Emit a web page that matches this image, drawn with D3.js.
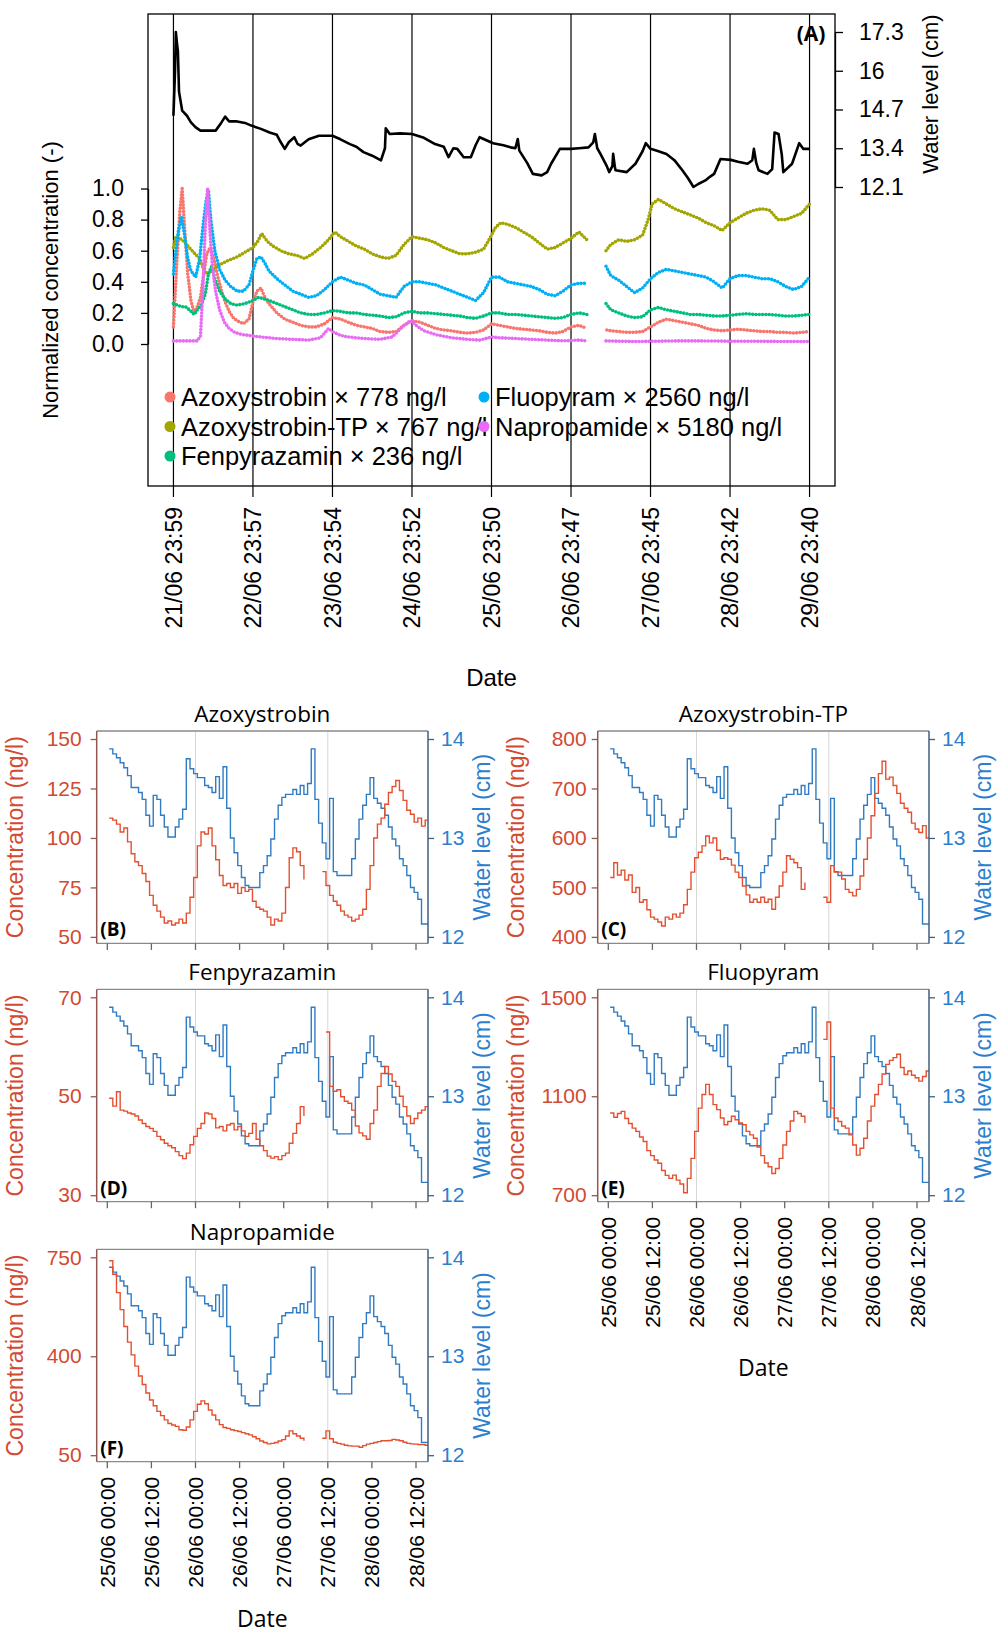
<!DOCTYPE html>
<html>
<head>
<meta charset="utf-8">
<script src="https://cdn.jsdelivr.net/npm/d3@7"></script>
<style>
  body { margin: 0; background: #fff; }
</style>
</head>
<body>
<script>
// ---- panel A: normalized concentrations, [day since 21/06 23:59, value] ----
const azoxyNorm = [[0,0.11],[0.04,0.5],[0.08,0.85],[0.11,1.0],[0.14,0.75],[0.18,0.45],[0.22,0.28],[0.26,0.2],[0.3,0.24],[0.34,0.3],[0.38,0.45],[0.42,0.58],[0.46,0.62],[0.5,0.57],[0.55,0.45],[0.6,0.35],[0.65,0.27],[0.7,0.21],[0.75,0.17],[0.8,0.15],[0.88,0.13],[0.95,0.16],[1.0,0.27],[1.05,0.34],[1.1,0.36],[1.15,0.3],[1.2,0.26],[1.3,0.2],[1.4,0.16],[1.5,0.14],[1.6,0.12],[1.7,0.11],[1.8,0.11],[1.9,0.13],[2.0,0.17],[2.1,0.16],[2.2,0.14],[2.3,0.12],[2.4,0.11],[2.5,0.1],[2.6,0.08],[2.7,0.075],[2.8,0.08],[2.9,0.12],[3.0,0.15],[3.1,0.14],[3.2,0.12],[3.3,0.1],[3.4,0.09],[3.5,0.085],[3.6,0.075],[3.7,0.07],[3.8,0.075],[3.9,0.09],[4.0,0.13],[4.1,0.12],[4.2,0.11],[4.3,0.1],[4.4,0.095],[4.5,0.09],[4.6,0.085],[4.7,0.075],[4.8,0.07],[4.9,0.08],[5.0,0.11],[5.1,0.12],[5.2,0.1],[5.3,null],[5.45,0.09],[5.5,0.085],[5.6,0.08],[5.7,0.075],[5.8,0.075],[5.9,0.08],[6.0,0.11],[6.1,0.14],[6.2,0.16],[6.3,0.15],[6.4,0.14],[6.5,0.13],[6.6,0.12],[6.7,0.1],[6.8,0.09],[6.9,0.085],[7.0,0.09],[7.1,0.095],[7.2,0.09],[7.3,0.085],[7.4,0.08],[7.5,0.08],[7.6,0.075],[7.7,0.075],[7.8,0.07],[7.9,0.075],[8.0,0.08]];
const tpNorm = [[0,0.62],[0.03,0.69],[0.08,0.68],[0.13,0.66],[0.2,0.62],[0.27,0.58],[0.33,0.55],[0.38,0.48],[0.42,0.45],[0.48,0.47],[0.55,0.5],[0.62,0.52],[0.7,0.54],[0.8,0.56],[0.9,0.59],[1.0,0.62],[1.06,0.66],[1.11,0.71],[1.18,0.66],[1.25,0.63],[1.35,0.6],[1.45,0.58],[1.55,0.57],[1.65,0.55],[1.75,0.58],[1.85,0.62],[1.95,0.67],[2.03,0.72],[2.1,0.69],[2.2,0.66],[2.3,0.63],[2.4,0.61],[2.5,0.58],[2.6,0.56],[2.7,0.55],[2.8,0.57],[2.9,0.64],[3.0,0.69],[3.1,0.68],[3.2,0.67],[3.3,0.65],[3.4,0.62],[3.5,0.6],[3.6,0.58],[3.7,0.58],[3.8,0.59],[3.9,0.61],[3.98,0.68],[4.05,0.75],[4.12,0.78],[4.2,0.77],[4.3,0.75],[4.4,0.72],[4.5,0.69],[4.6,0.65],[4.7,0.61],[4.8,0.62],[4.9,0.65],[5.0,0.68],[5.1,0.72],[5.2,0.67],[5.3,null],[5.44,0.6],[5.5,0.64],[5.6,0.67],[5.7,0.66],[5.8,0.67],[5.9,0.7],[5.97,0.8],[6.02,0.9],[6.1,0.93],[6.2,0.9],[6.3,0.87],[6.4,0.85],[6.5,0.83],[6.6,0.81],[6.7,0.78],[6.8,0.76],[6.9,0.73],[7.0,0.78],[7.1,0.81],[7.2,0.84],[7.3,0.86],[7.4,0.87],[7.5,0.86],[7.6,0.8],[7.7,0.8],[7.8,0.82],[7.9,0.84],[8.0,0.9]];
const fenpyrNorm = [[0,0.26],[0.05,0.25],[0.1,0.24],[0.15,0.24],[0.2,0.22],[0.26,0.19],[0.3,0.22],[0.35,0.25],[0.4,0.32],[0.44,0.45],[0.48,0.5],[0.52,0.42],[0.58,0.34],[0.65,0.29],[0.72,0.26],[0.8,0.25],[0.9,0.26],[1.0,0.28],[1.07,0.3],[1.14,0.29],[1.2,0.28],[1.3,0.26],[1.4,0.24],[1.5,0.22],[1.6,0.2],[1.7,0.19],[1.8,0.19],[1.9,0.2],[2.0,0.215],[2.1,0.21],[2.2,0.2],[2.3,0.2],[2.4,0.19],[2.5,0.185],[2.6,0.18],[2.7,0.17],[2.8,0.175],[2.9,0.2],[3.0,0.21],[3.1,0.2],[3.2,0.2],[3.3,0.195],[3.4,0.19],[3.5,0.185],[3.6,0.18],[3.7,0.17],[3.8,0.165],[3.9,0.18],[4.0,0.2],[4.1,0.2],[4.2,0.19],[4.3,0.19],[4.4,0.185],[4.5,0.18],[4.6,0.175],[4.7,0.17],[4.8,0.165],[4.9,0.17],[5.0,0.19],[5.1,0.2],[5.2,0.19],[5.3,null],[5.44,0.26],[5.5,0.22],[5.6,0.2],[5.7,0.18],[5.8,0.17],[5.9,0.175],[6.0,0.22],[6.1,0.235],[6.2,0.22],[6.3,0.21],[6.4,0.2],[6.5,0.19],[6.6,0.19],[6.7,0.185],[6.8,0.18],[6.9,0.18],[7.0,0.185],[7.1,0.19],[7.2,0.195],[7.3,0.19],[7.4,0.19],[7.5,0.19],[7.6,0.185],[7.7,0.18],[7.8,0.18],[7.9,0.185],[8.0,0.19]];
const fluoNorm = [[0,0.45],[0.03,0.6],[0.06,0.72],[0.1,0.82],[0.14,0.7],[0.18,0.55],[0.22,0.47],[0.28,0.43],[0.33,0.55],[0.37,0.75],[0.41,0.92],[0.44,0.99],[0.47,0.8],[0.52,0.6],[0.58,0.48],[0.65,0.41],[0.72,0.37],[0.8,0.34],[0.88,0.34],[0.95,0.38],[1.0,0.47],[1.05,0.55],[1.1,0.56],[1.15,0.52],[1.2,0.47],[1.3,0.42],[1.4,0.38],[1.5,0.34],[1.6,0.32],[1.7,0.3],[1.8,0.31],[1.9,0.35],[2.0,0.4],[2.1,0.43],[2.2,0.41],[2.3,0.39],[2.4,0.38],[2.5,0.35],[2.6,0.32],[2.7,0.31],[2.8,0.3],[2.9,0.37],[3.0,0.4],[3.1,0.4],[3.2,0.39],[3.3,0.38],[3.4,0.36],[3.5,0.34],[3.6,0.32],[3.7,0.3],[3.8,0.28],[3.9,0.33],[4.0,0.43],[4.1,0.43],[4.2,0.4],[4.3,0.39],[4.4,0.38],[4.5,0.37],[4.6,0.35],[4.7,0.32],[4.8,0.31],[4.9,0.34],[5.0,0.38],[5.1,0.39],[5.2,0.39],[5.3,null],[5.44,0.5],[5.5,0.44],[5.6,0.41],[5.7,0.37],[5.8,0.33],[5.9,0.36],[6.0,0.42],[6.1,0.46],[6.2,0.48],[6.3,0.47],[6.4,0.46],[6.5,0.45],[6.6,0.44],[6.7,0.43],[6.8,0.4],[6.9,0.36],[7.0,0.42],[7.1,0.44],[7.2,0.44],[7.3,0.43],[7.4,0.42],[7.5,0.42],[7.6,0.4],[7.7,0.37],[7.8,0.35],[7.9,0.37],[8.0,0.43]];
const naproNorm = [[0,0.02],[0.1,0.02],[0.2,0.02],[0.3,0.02],[0.34,0.05],[0.37,0.35],[0.4,0.75],[0.43,1.0],[0.46,0.72],[0.49,0.5],[0.53,0.34],[0.58,0.22],[0.64,0.14],[0.7,0.1],[0.77,0.075],[0.85,0.062],[0.95,0.055],[1.1,0.045],[1.3,0.035],[1.5,0.03],[1.7,0.025],[1.85,0.04],[1.95,0.1],[2.0,0.08],[2.1,0.055],[2.2,0.045],[2.4,0.035],[2.6,0.03],[2.75,0.045],[2.9,0.12],[2.98,0.15],[3.05,0.12],[3.15,0.085],[3.3,0.06],[3.5,0.04],[3.7,0.03],[3.85,0.025],[4.0,0.045],[4.1,0.04],[4.3,0.035],[4.5,0.03],[4.7,0.025],[4.9,0.02],[5.1,0.025],[5.2,0.02],[5.3,null],[5.44,0.02],[5.6,0.018],[5.8,0.016],[6.0,0.017],[6.3,0.02],[6.6,0.02],[7.0,0.018],[7.4,0.017],[7.8,0.016],[8.0,0.016]];
// water level (cm) for panel A
const levelA = [[0,14.49],[0.02,16.0],[0.03,17.3],[0.045,16.9],[0.056,16.66],[0.07,15.3],[0.11,14.66],[0.17,14.49],[0.22,14.27],[0.28,14.1],[0.34,13.99],[0.45,13.99],[0.53,13.99],[0.56,14.1],[0.6,14.25],[0.65,14.46],[0.7,14.3],[0.8,14.3],[0.9,14.25],[0.98,14.16],[1.1,14.05],[1.21,13.93],[1.3,13.85],[1.35,13.6],[1.4,13.38],[1.45,13.6],[1.52,13.77],[1.56,13.55],[1.6,13.49],[1.7,13.7],[1.83,13.82],[2.0,13.82],[2.1,13.7],[2.22,13.54],[2.3,13.45],[2.39,13.27],[2.5,13.15],[2.61,12.99],[2.66,13.4],[2.67,14.07],[2.72,13.88],[2.85,13.9],[3.0,13.88],[3.15,13.75],[3.29,13.54],[3.4,13.45],[3.46,13.1],[3.52,13.4],[3.57,13.38],[3.65,13.1],[3.74,13.1],[3.8,13.5],[3.85,13.77],[3.95,13.65],[4.02,13.57],[4.15,13.5],[4.24,13.43],[4.3,13.4],[4.33,13.71],[4.35,13.32],[4.45,12.9],[4.52,12.54],[4.63,12.49],[4.7,12.6],[4.75,12.88],[4.86,13.38],[5.0,13.38],[5.1,13.4],[5.22,13.43],[5.28,13.6],[5.3,13.88],[5.33,13.4],[5.37,13.21],[5.45,12.8],[5.48,12.6],[5.52,12.8],[5.53,13.21],[5.55,12.8],[5.56,12.66],[5.7,12.6],[5.81,12.88],[5.9,13.3],[5.94,13.57],[6.0,13.38],[6.1,13.3],[6.2,13.21],[6.3,13.0],[6.4,12.66],[6.47,12.4],[6.54,12.1],[6.6,12.2],[6.69,12.32],[6.75,12.45],[6.8,12.54],[6.88,13.04],[7.01,13.01],[7.1,12.95],[7.22,12.88],[7.28,13.0],[7.3,13.38],[7.33,12.9],[7.36,12.66],[7.47,12.54],[7.53,12.7],[7.56,13.93],[7.61,13.88],[7.65,13.2],[7.67,12.6],[7.78,12.88],[7.87,13.57],[7.92,13.38],[8.0,13.38]];

const legendNames = ["Azoxystrobin \u00d7 778 ng/l", "Azoxystrobin-TP \u00d7 767 ng/l", "Fenpyrazamin \u00d7 236 ng/l", "Fluopyram \u00d7 2560 ng/l", "Napropamide \u00d7 5180 ng/l"];
const dayTickLabels = ["21/06 23:59", "22/06 23:57", "23/06 23:54", "24/06 23:52", "25/06 23:50", "26/06 23:47", "27/06 23:45", "28/06 23:42", "29/06 23:40"];
const normTicks = [0, 0.2, 0.4, 0.6, 0.8, 1.0];
const levelTicksA = [12.1, 13.4, 14.7, 16, 17.3];

// ---- panels B-F: hourly values from 25/06 00:30 ----
const waterLevel = [13.90,13.85,13.81,13.76,13.71,13.63,13.51,13.51,13.46,13.39,
  13.23,13.12,13.43,13.39,13.23,13.11,13.01,13.01,13.11,13.19,
  13.29,13.80,13.70,13.65,13.61,13.61,13.53,13.51,13.46,13.62,
  13.40,13.72,13.30,13.00,12.85,12.72,12.60,12.52,12.50,12.50,
  12.50,12.65,12.72,12.82,12.99,13.19,13.33,13.41,13.44,13.44,
  13.49,13.44,13.53,13.44,13.55,13.90,13.39,13.15,12.95,12.79,
  13.40,12.66,12.62,12.62,12.62,12.62,12.79,12.99,13.19,13.33,
  13.44,13.61,13.40,13.35,13.30,13.23,13.11,12.99,12.92,12.79,
  12.72,12.62,12.50,12.45,12.38,12.13,12.13,12.30];
const azoxyConc = [110,109,107,103,105,98,92,88,86,82,
  78,71,66,63,60,57,58,56,57,59,
  57,62,70,80,96,103,102,105,96,89,
  81,76,77,75,77,72,75,73,74,68,
  65,64,63,60,56,59,58,62,75,90,
  95,93,86,79,null,null,null,null,83,76,
  71,68,66,63,61,60,58,59,61,64,
  74,86,100,107,110,117,123,126,129,124,
  119,114,112,108,110,106,109,106];
const tpConc = [520,550,525,535,515,525,490,500,470,475,
  455,440,436,430,422,440,436,446,440,448,
  465,496,531,560,571,584,604,590,600,575,
  557,560,557,545,531,520,503,485,470,476,
  470,480,470,476,456,480,503,531,564,557,
  550,540,496,510,null,null,null,null,480,470,
  544,531,531,517,496,490,483,496,523,557,
  600,645,690,730,755,719,723,706,690,670,
  660,652,630,618,611,625,600,590];
const fenpyrConc = [49.6,48,50.9,47.2,47,46.6,46.4,46,45.2,44.5,
  43.9,43.5,42.9,41.9,41.2,40.5,40,39.6,38.8,38,
  37.4,38.5,40.2,41.9,43.5,44.5,46.6,46.4,45.5,43.6,
  43.9,43,44.2,44.5,43.2,43.9,43,41.9,42.5,44.5,
  41.3,40,39,37.9,37.5,37.8,37.2,38,38.5,40.5,
  42.5,44.5,47.9,46,null,null,null,null,null,63,
  52,51,51.3,49.9,49,48.6,47.2,44,42.6,42,
  41.3,44.5,47.2,52,54.6,56,54.5,53,52,50,
  47.9,46,44.5,45.5,46.6,47.2,47.9,46.6];
const fluoConc = [1032,1015,1030,1039,1010,990,971,958,935,917,
  880,860,842,829,800,780,768,781,761,745,
  710,768,849,958,1052,1107,1148,1107,1066,1046,
  1012,985,998,1019,1005,992,985,958,944,930,
  895,860,830,815,788,808,849,903,958,1000,
  1039,1030,1019,992,null,null,null,null,1330,1400,
  1052,1012,998,980,971,944,903,862,890,930,
  1000,1060,1107,1148,1190,1229,1245,1256,1270,1216,
  1188,1202,1185,1175,1161,1180,1202,1243];
const naproConc = [738,690,625,565,505,450,405,365,330,300,
  270,245,225,205,190,175,162,157,152,140,
  138,150,175,205,230,242,232,210,192,175,
  158,148,145,140,137,134,130,126,122,115,
  108,100,95,90,92,95,100,105,118,136,
  126,118,110,101,null,null,null,null,110,136,
  108,96,92,89,85,83,82,82,78,84,
  89,92,95,98,101,101,102,106,104,101,
  96,92,90,89,88,88,85,83];

const hourTicks = [0, 12, 24, 36, 48, 60, 72, 84];
const hourTickLabels = ["25/06 00:00", "25/06 12:00", "26/06 00:00", "26/06 12:00", "27/06 00:00", "27/06 12:00", "28/06 00:00", "28/06 12:00"];
const gridHours = [24, 60];
const levelTicks = [12, 13, 14];

// colours
const seriesColors = ["#F8766D", "#A3A500", "#00BF7D", "#00B0F6", "#E76BF3"];
const concColor = "#e4502f", concText = "#d24a32";
const levelColor = "#2f7bc4", levelText = "#2c7fcf";
const sans = "'Liberation Sans', Arial, sans-serif";
const title = "'Open Sans', sans-serif";

const svg = d3.select("body").append("svg")
  .attr("width", 1008).attr("height", 1637)
  .style("background", "#fff")
  .attr("font-family", sans);

// ================= panel A =================
const A = {left: 148, right: 835, top: 14, bottom: 486};
const xDay = d3.scaleLinear().domain([-0.32, 8.32]).range([A.left, A.right]);
const yNorm = d3.scaleLinear().domain([0, 1]).range([344, 188.5]);
const yLevelA = d3.scaleLinear().domain([12.1, 17.3]).range([187, 32]);

svg.append("rect")
  .attr("x", A.left).attr("y", A.top)
  .attr("width", A.right - A.left).attr("height", A.bottom - A.top)
  .attr("fill", "none").attr("stroke", "#000").attr("stroke-width", 1.3);

// day lines (also the x ticks)
svg.selectAll(".dayline")
  .data(dayTickLabels)
  .join("line")
    .attr("x1", (d, i) => xDay(i)).attr("x2", (d, i) => xDay(i))
    .attr("y1", A.top).attr("y2", A.bottom + 11)
    .attr("stroke", "#000").attr("stroke-width", 1.2);

svg.selectAll(".daylabel")
  .data(dayTickLabels)
  .join("text")
    .attr("transform", (d, i) => `translate(${xDay(i)},507)rotate(-90)`)
    .attr("dy", "0.36em")
    .attr("text-anchor", "end")
    .attr("font-size", 23)
    .text(d => d);

svg.append("text")
  .attr("x", xDay(4)).attr("y", 686)
  .attr("text-anchor", "middle").attr("font-size", 24)
  .text("Date");

// water level line
const levelLineA = d3.line()
  .x(d => xDay(d[0]))
  .y(d => yLevelA(d[1]));
svg.append("path")
  .datum(levelA)
  .attr("d", levelLineA)
  .attr("fill", "none").attr("stroke", "#000").attr("stroke-width", 2.6)
  .attr("stroke-linejoin", "round");

// normalized series, drawn as dense dots
const normLine = d3.line()
  .defined(d => d[1] != null)
  .x(d => xDay(d[0]))
  .y(d => yNorm(d[1]));
[azoxyNorm, tpNorm, fenpyrNorm, fluoNorm, naproNorm].forEach((s, i) => {
  svg.append("path")
    .datum(s)
    .attr("d", normLine)
    .attr("fill", "none")
    .attr("stroke", seriesColors[i])
    .attr("stroke-width", 3.6)
    .attr("stroke-linecap", "round")
    .attr("stroke-dasharray", "0 3.3");
});

// axes
const axisNorm = svg.append("g")
  .attr("transform", `translate(${A.left},0)`)
  .call(d3.axisLeft(yNorm).tickValues(normTicks).tickFormat(d3.format(".1f"))
    .tickSize(7).tickSizeOuter(0).tickPadding(17));
axisNorm.attr("font-size", 23).attr("font-family", sans);
axisNorm.selectAll("path, line").attr("stroke", "#000").attr("stroke-width", 1.3);
axisNorm.selectAll("text").attr("fill", "#000");

const axisLevelA = svg.append("g")
  .attr("transform", `translate(${A.right},0)`)
  .call(d3.axisRight(yLevelA).tickValues(levelTicksA).tickFormat(d => String(d))
    .tickSize(8).tickSizeOuter(0).tickPadding(16));
axisLevelA.attr("font-size", 23).attr("font-family", sans);
axisLevelA.selectAll("path, line").attr("stroke", "#000").attr("stroke-width", 1.3);
axisLevelA.selectAll("text").attr("fill", "#000");

svg.append("text")
  .attr("transform", "translate(50,280)rotate(-90)")
  .attr("dy", "0.36em").attr("text-anchor", "middle").attr("font-size", 22)
  .text("Normalized concentration (-)");
svg.append("text")
  .attr("transform", "translate(930,94)rotate(-90)")
  .attr("dy", "0.36em").attr("text-anchor", "middle").attr("font-size", 22)
  .text("Water level (cm)");

svg.append("text")
  .attr("x", 811).attr("y", 41)
  .attr("text-anchor", "middle").attr("font-family", title)
  .attr("font-weight", "bold").attr("font-size", 21)
  .text("(A)");

// legend: 3 rows in the first column, 2 in the second
const legendCols = [170, 484], legendRows = [397, 426.5, 456];
const legend = svg.selectAll(".legend")
  .data(legendNames)
  .join("g")
    .attr("transform", (d, i) => `translate(${legendCols[i < 3 ? 0 : 1]},${legendRows[i < 3 ? i : i - 3]})`);
legend.append("circle")
  .attr("r", 5.5).attr("fill", (d, i) => seriesColors[i]);
legend.append("text")
  .attr("x", 11).attr("dy", "0.36em")
  .attr("font-size", 25.5)
  .text(d => d);

// ================= panels B-F =================
const colX0 = [107.3, 608.3];          // x of 25/06 00:00 in each column
const rowTop = [731, 989.3, 1249.3];
const panelH = 212.4;
const hourPx = 3.675;
const sampleHours = waterLevel.map((d, i) => 0.5 + i);

const panels = [
  {tag: "(B)", name: "Azoxystrobin", values: azoxyConc, ticks: [50, 75, 100, 125, 150], col: 0, row: 0, dates: false},
  {tag: "(C)", name: "Azoxystrobin-TP", values: tpConc, ticks: [400, 500, 600, 700, 800], col: 1, row: 0, dates: false},
  {tag: "(D)", name: "Fenpyrazamin", values: fenpyrConc, ticks: [30, 50, 70], col: 0, row: 1, dates: false},
  {tag: "(E)", name: "Fluopyram", values: fluoConc, ticks: [700, 1100, 1500], col: 1, row: 1, dates: true},
  {tag: "(F)", name: "Napropamide", values: naproConc, ticks: [50, 400, 750], col: 0, row: 2, dates: true}
];

panels.forEach((p, pi) => {
  const x0 = colX0[p.col];
  const left = x0 - 10.6, right = x0 + 320.7;
  const top = rowTop[p.row], bottom = top + panelH;
  const x = d3.scaleLinear().domain([0, 84]).range([x0, x0 + 84 * hourPx]);
  const yC = d3.scaleLinear().domain(d3.extent(p.ticks)).range([bottom - 6.5, top + 8]);
  const yW = d3.scaleLinear().domain([12, 14]).range([bottom - 6.5, top + 8]);
  const g = svg.append("g");

  g.append("clipPath").attr("id", "clip" + pi)
    .append("rect").attr("x", left).attr("y", top)
    .attr("width", right - left).attr("height", bottom - top);

  // grid lines
  g.selectAll(".grid").data(gridHours).join("line")
    .attr("x1", d => x(d)).attr("x2", d => x(d))
    .attr("y1", top).attr("y2", bottom)
    .attr("stroke", "#d6d6d6").attr("stroke-width", 1);

  const plot = g.append("g").attr("clip-path", `url(#clip${pi})`);
  const levelLine = d3.line()
    .x((d, i) => x(sampleHours[i]))
    .y(d => yW(d))
    .curve(d3.curveStepAfter);
  plot.append("path")
    .datum(waterLevel)
    .attr("d", levelLine)
    .attr("fill", "none").attr("stroke", levelColor).attr("stroke-width", 1.4);

  const concLine = d3.line()
    .defined(d => d != null)
    .x((d, i) => x(sampleHours[i]))
    .y(d => yC(d))
    .curve(d3.curveStepAfter);
  plot.append("path")
    .datum(p.values)
    .attr("d", concLine)
    .attr("fill", "none").attr("stroke", concColor).attr("stroke-width", 1.4);

  // frame
  g.append("line").attr("x1", left).attr("x2", right).attr("y1", top).attr("y2", top)
    .attr("stroke", "#8a8a8a").attr("stroke-width", 1.3);
  g.append("line").attr("x1", left).attr("x2", right).attr("y1", bottom).attr("y2", bottom)
    .attr("stroke", "#8a8a8a").attr("stroke-width", 1.3);
  g.append("line").attr("x1", left).attr("x2", left).attr("y1", top).attr("y2", bottom)
    .attr("stroke", "#93564f").attr("stroke-width", 1.5);
  g.append("line").attr("x1", right).attr("x2", right).attr("y1", top).attr("y2", bottom)
    .attr("stroke", "#40607f").attr("stroke-width", 1.5);

  // left axis
  const aL = g.append("g").attr("transform", `translate(${left},0)`)
    .call(d3.axisLeft(yC).tickValues(p.ticks).tickFormat(d3.format("d"))
      .tickSize(6).tickSizeOuter(0).tickPadding(p.col ? 5 : 9));
  aL.attr("font-size", 21).attr("font-family", sans);
  aL.select(".domain").remove();
  aL.selectAll("line").attr("stroke", "#93564f").attr("stroke-width", 1.3);
  aL.selectAll("text").attr("fill", concText);

  // right axis
  const aR = g.append("g").attr("transform", `translate(${right},0)`)
    .call(d3.axisRight(yW).tickValues(levelTicks).tickFormat(d3.format("d"))
      .tickSize(6).tickSizeOuter(0).tickPadding(7));
  aR.attr("font-size", 21).attr("font-family", sans);
  aR.select(".domain").remove();
  aR.selectAll("line").attr("stroke", "#40607f").attr("stroke-width", 1.3);
  aR.selectAll("text").attr("fill", levelText);

  // bottom ticks
  g.selectAll(".xt").data(hourTicks).join("line")
    .attr("x1", d => x(d)).attr("x2", d => x(d))
    .attr("y1", bottom).attr("y2", bottom + 6.5)
    .attr("stroke", "#666").attr("stroke-width", 1.3);

  if (p.dates) {
    g.selectAll(".xl").data(hourTickLabels).join("text")
      .attr("transform", (d, i) => `translate(${x(hourTicks[i])},${bottom + 15})rotate(-90)`)
      .attr("dy", "0.36em").attr("text-anchor", "end")
      .attr("font-size", 21)
      .text(d => d);
    g.append("text")
      .attr("x", (left + right) / 2).attr("y", p.col ? bottom + 174 : bottom + 165)
      .attr("text-anchor", "middle").attr("font-family", title).attr("font-size", 23)
      .text("Date");
  }

  // titles
  g.append("text")
    .attr("x", (left + right) / 2).attr("y", top - 9)
    .attr("text-anchor", "middle").attr("font-family", title).attr("font-size", 22.5)
    .text(p.name);
  g.append("text")
    .attr("x", left + 3.5).attr("y", bottom - 7)
    .attr("font-family", title).attr("font-weight", "bold").attr("font-size", 19)
    .text(p.tag);
  g.append("text")
    .attr("transform", `translate(${left - 82},${(top + bottom) / 2})rotate(-90)`)
    .attr("dy", "0.36em").attr("text-anchor", "middle").attr("font-size", 23)
    .attr("fill", concText)
    .text("Concentration (ng/l)");
  g.append("text")
    .attr("transform", `translate(${right + 54},${(top + bottom) / 2})rotate(-90)`)
    .attr("dy", "0.36em").attr("text-anchor", "middle").attr("font-size", 23)
    .attr("fill", levelText)
    .text("Water level (cm)");
});
</script>
</body>
</html>
